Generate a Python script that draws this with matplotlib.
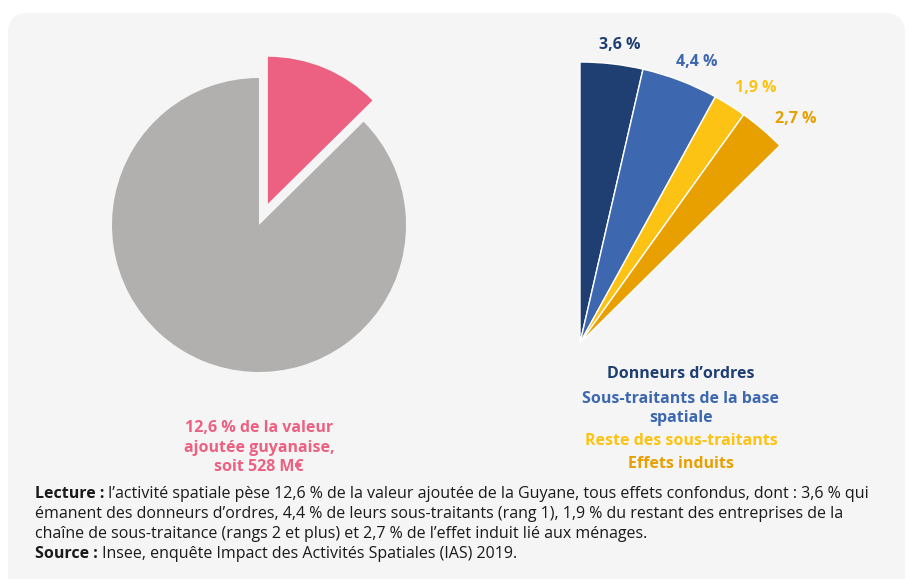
import numpy as np
import matplotlib
matplotlib.use('Agg')
import matplotlib.pyplot as plt
from matplotlib.patches import FancyBboxPatch

plt.rcParams['font.family'] = ['Open Sans', 'DejaVu Sans']

# data
total_share = 12.6
rest_share = 100 - total_share
parts = [3.6, 4.4, 1.9, 2.7]
part_labels = ['3,6 %', '4,4 %', '1,9 %', '2,7 %']
part_names = ['Donneurs d\u2019ordres', 'Sous-traitants de la base\nspatiale',
              'Reste des sous-traitants', 'Effets induits']
part_colors = ['#1f3f73', '#3d68b0', '#fdc314', '#e8a000']
pink = '#ec6181'
grey = '#b1b0ae'
pie_note = ['12,6 % de la valeur', 'ajoutée guyanaise,', 'soit 528 M\u20ac']

W, H = 912, 579
fig = plt.figure(figsize=(W / 100, H / 100), dpi=100)
fig.patch.set_facecolor('white')
ax = fig.add_axes([0, 0, 1, 1])

def Y(y):
    return H - y

panel = FancyBboxPatch((8, Y(600)), 897, 587, boxstyle='round,pad=0,rounding_size=20',
                       facecolor='#f5f5f5', edgecolor='none', zorder=0)
ax.add_patch(panel)

# left pie (explode is in data units here)
ax.pie([total_share, rest_share], colors=[pink, grey], startangle=90, counterclock=False,
       center=(259, Y(225)), radius=147, explode=[23, 0],
       wedgeprops=dict(linewidth=0, zorder=2))

# right fan (zoom on the 12.6 % slice)
wedges, _ = ax.pie(parts + [rest_share], colors=part_colors + ['none'], startangle=90,
                   counterclock=False, center=(580, Y(343)), radius=281,
                   wedgeprops=dict(linewidth=1, edgecolor='white', zorder=2))
wedges[-1].set_visible(False)

label_pos = [(620, 49), (697, 66), (756, 92), (796, 123)]
for lab, c, (x, y) in zip(part_labels, part_colors, label_pos):
    ax.text(x, Y(y), lab, color=c, fontsize=11.5, fontweight='bold', ha='center', va='baseline')

name_base = [[378], [403, 422], [445], [468]]
for name, c, ys in zip(part_names, part_colors, name_base):
    for line, y in zip(name.split('\n'), ys):
        ax.text(681, Y(y), line, color=c, fontsize=11.5, fontweight='bold', ha='center',
                va='baseline')

for line, y in zip(pie_note, [432, 452, 471]):
    ax.text(259, Y(y), line, color=pink, fontsize=11.5, fontweight='bold', ha='center',
            va='baseline')

# caption
cap_size = 11.5
cc = '#1a1a1a'
t = ax.text(35, Y(498), 'Lecture :', fontsize=cap_size, fontweight='bold', va='baseline', color=cc)
ax.annotate(' l\u2019activité spatiale pèse 12,6 % de la valeur ajoutée de la Guyane, tous effets confondus, dont : 3,6 % qui',
            xy=(1, 0), xycoords=t, va='bottom', fontsize=cap_size, color=cc)
ax.text(35, Y(518), 'émanent des donneurs d\u2019ordres, 4,4 % de leurs sous-traitants (rang 1), 1,9 % du restant des entreprises de la',
        fontsize=cap_size, va='baseline', color=cc)
ax.text(35, Y(538), 'chaîne de sous-traitance (rangs 2 et plus) et 2,7 % de l\u2019effet induit lié aux ménages.',
        fontsize=cap_size, va='baseline', color=cc)
t2 = ax.text(35, Y(558), 'Source :', fontsize=cap_size, fontweight='bold', va='baseline', color=cc)
ax.annotate(' Insee, enquête Impact des Activités Spatiales (IAS) 2019.',
            xy=(1, 0), xycoords=t2, va='bottom', fontsize=cap_size, color=cc)

ax.set_xlim(0, W)
ax.set_ylim(0, H)
ax.set_aspect('auto')
ax.axis('off')

fig.savefig('out.png', dpi=100)
